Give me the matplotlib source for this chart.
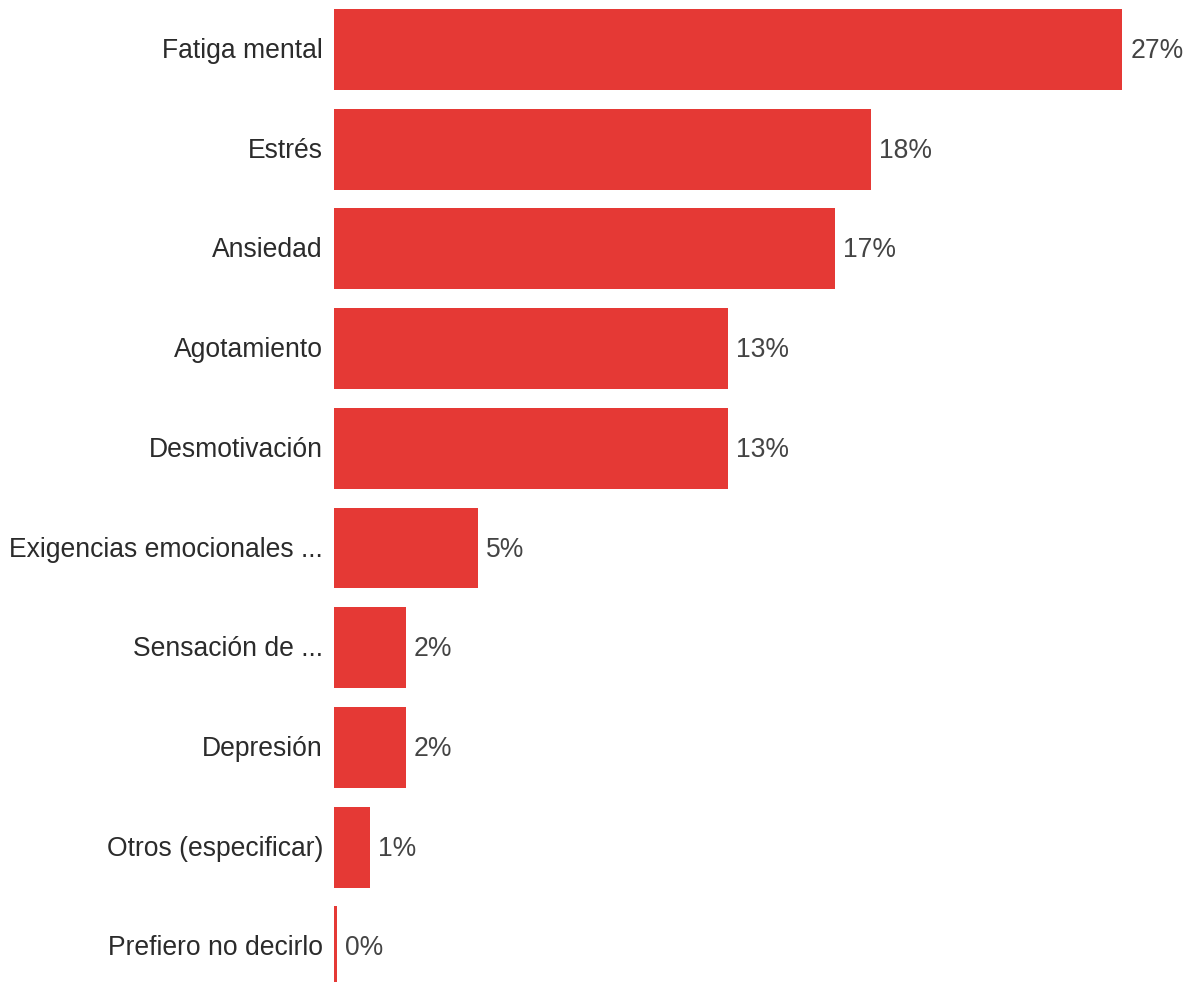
import matplotlib
matplotlib.use("Agg")
from matplotlib import pyplot as plt

categories = ["Fatiga mental", "Estrés", "Ansiedad", "Agotamiento", "Desmotivación",
              "Exigencias emocionales ...", "Sensación de ...", "Depresión",
              "Otros (especificar)", "Prefiero no decirlo"]
values = [27.0, 18.4, 17.16, 13.5, 13.5, 4.93, 2.47, 2.47, 1.23, 0.1]
labels = ["27%", "18%", "17%", "13%", "13%", "5%", "2%", "2%", "1%", "0%"]

W, H, DPI = 1196, 982, 100
fig = plt.figure(figsize=(W / DPI, H / DPI), dpi=DPI)
ax = fig.add_axes([334 / W, 0, 1 - 334 / W, 1])

bar_color = "#e53935"
ypos = list(range(len(categories)))
ax.barh(ypos, values, height=0.812, color=bar_color, align="center")

px_per_unit = 29.2
ax.set_xlim(0, (W - 334) / px_per_unit)
ax.set_ylim(9.353, -0.4965)
ax.axis("off")

font = "Liberation Sans"
fs = 19.1
pt = 72 / DPI  # points per pixel
for y, v, lab, cat in zip(ypos, values, labels, categories):
    ax.annotate(lab, (v, y), xytext=(8 * pt, -1.5 * pt), textcoords="offset points",
                ha="left", va="center", fontsize=fs, color="#444444", family=font)
    ax.annotate(cat, (0, y), xytext=(-11 * pt, -1.5 * pt), textcoords="offset points",
                ha="right", va="center", fontsize=fs, color="#2b2b2b", family=font,
                annotation_clip=False)

fig.savefig("out.png", dpi=DPI)
